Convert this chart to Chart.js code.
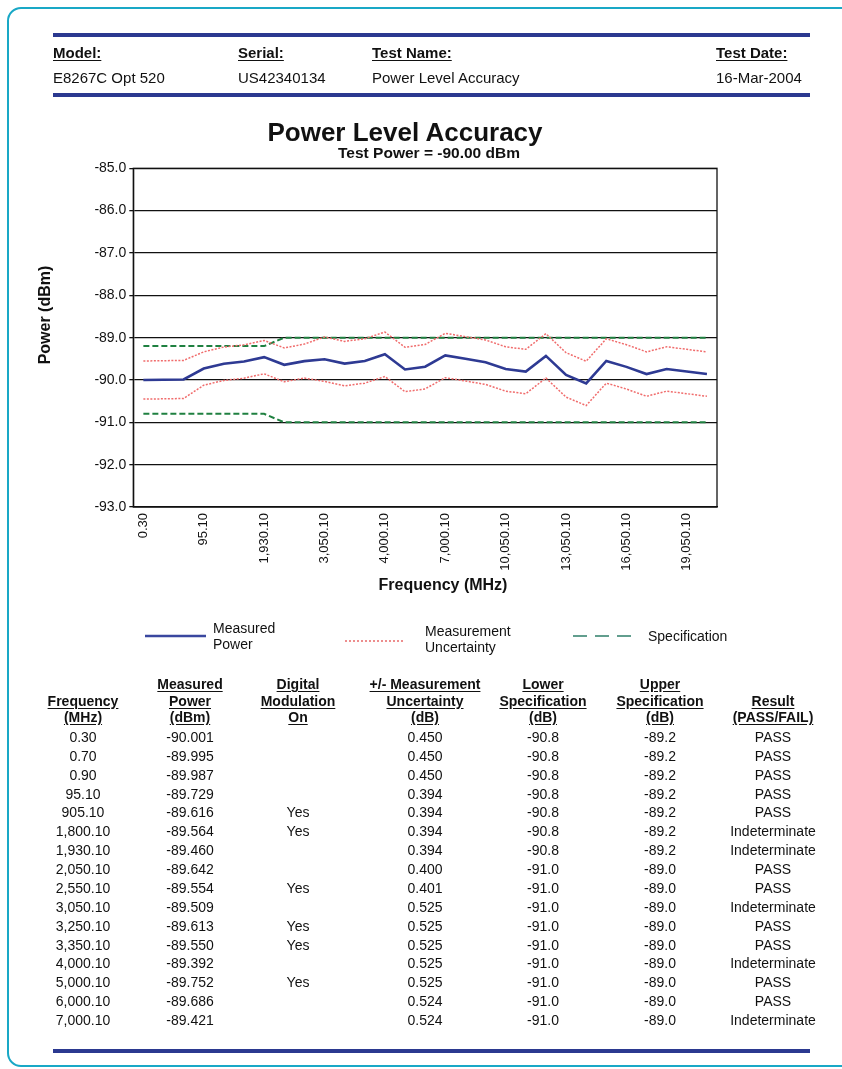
<!DOCTYPE html>
<html>
<head>
<meta charset="utf-8">
<script src="https://cdn.jsdelivr.net/npm/chart.js@4.4.1/dist/chart.umd.min.js"></script>
<style>
  html, body { margin: 0; padding: 0; background: #fff; }
  body { width: 842px; height: 1069px; position: relative; overflow: hidden;
         font-family: "Liberation Sans", Arial, sans-serif; color: #111; }
  .frame { position: absolute; left: 7px; top: 7px; width: 900px; height: 1060px;
           border: 2.5px solid #19a8c6; border-radius: 14px; box-sizing: border-box; }
  .bar { position: absolute; left: 53px; width: 757px; height: 4px; background: #2b3990; }
  .t { position: absolute; white-space: nowrap; line-height: 20px; height: 20px; }
  .b { font-weight: bold; }
  .u { text-decoration: underline; text-underline-offset: 2px; }
  #chartBox { position: absolute; left: 30px; top: 150px; }
</style>
</head>
<body>
<div class="frame"></div>
<div class="bar" style="top:33px"></div>
<div class="bar" style="top:93px"></div>
<div class="bar" style="top:1049px"></div>

<div id="chartBox"><canvas id="powerChart" width="720" height="450"></canvas></div>

<svg style="position:absolute;left:0;top:0" width="842" height="1069">
  <line x1="145" y1="636" x2="206" y2="636" stroke="#3a479f" stroke-width="2.5"/>
  <line x1="345" y1="641" x2="403" y2="641" stroke="#e86a6a" stroke-width="1.3" stroke-dasharray="2,2"/>
  <line x1="573" y1="636" x2="631" y2="636" stroke="#2f7f6a" stroke-width="1.5" stroke-dasharray="14,8"/>
</svg>

<div id="texts"></div>

<script>
// chart values
const frequencies = [
  "0.30", "0.70", "0.90", "95.10", "905.10", "1,800.10", "1,930.10", "2,050.10",
  "2,550.10", "3,050.10", "3,250.10", "3,350.10", "4,000.10", "5,000.10", "6,000.10",
  "7,000.10", "8,050.10", "9,050.10", "10,050.10", "11,050.10", "12,050.10", "13,050.10",
  "14,050.10", "15,050.10", "16,050.10", "17,050.10", "18,050.10", "19,050.10", "20,000.10"
];
const shownTicks = ["0.30", "95.10", "1,930.10", "3,050.10", "4,000.10", "7,000.10",
  "10,050.10", "13,050.10", "16,050.10", "19,050.10"];

const measured = [
  -90.001, -89.995, -89.987, -89.729, -89.616, -89.564, -89.460, -89.642,
  -89.554, -89.509, -89.613, -89.550, -89.392, -89.752, -89.686, -89.421,
  -89.50, -89.58, -89.74, -89.80, -89.43, -89.88, -90.08, -89.55,
  -89.69, -89.86, -89.74, -89.80, -89.86
];
const uncertainty = [
  0.450, 0.450, 0.450, 0.394, 0.394, 0.394, 0.394, 0.400,
  0.401, 0.525, 0.525, 0.525, 0.525, 0.525, 0.524, 0.524,
  0.524, 0.524, 0.524, 0.524, 0.524, 0.524, 0.524, 0.524,
  0.524, 0.524, 0.524, 0.524, 0.524
];
const lowerSpec = [
  -90.8, -90.8, -90.8, -90.8, -90.8, -90.8, -90.8, -91.0,
  -91.0, -91.0, -91.0, -91.0, -91.0, -91.0, -91.0, -91.0,
  -91.0, -91.0, -91.0, -91.0, -91.0, -91.0, -91.0, -91.0,
  -91.0, -91.0, -91.0, -91.0, -91.0
];
const upperSpec = [
  -89.2, -89.2, -89.2, -89.2, -89.2, -89.2, -89.2, -89.0,
  -89.0, -89.0, -89.0, -89.0, -89.0, -89.0, -89.0, -89.0,
  -89.0, -89.0, -89.0, -89.0, -89.0, -89.0, -89.0, -89.0,
  -89.0, -89.0, -89.0, -89.0, -89.0
];

// table rows (first 16 points)
const modulation = ["", "", "", "", "Yes", "Yes", "", "", "Yes", "", "Yes", "Yes", "", "Yes", "", ""];
const results = ["PASS", "PASS", "PASS", "PASS", "PASS", "Indeterminate", "Indeterminate", "PASS",
  "PASS", "Indeterminate", "PASS", "PASS", "Indeterminate", "PASS", "PASS", "Indeterminate"];

const upperUnc = measured.map((m, i) => m + uncertainty[i]);
const lowerUnc = measured.map((m, i) => m - uncertainty[i]);

// ---------- text helpers ----------
const box = document.getElementById("texts");
function put(text, x, cy, size, cls, align) {
  const d = document.createElement("div");
  d.className = "t " + (cls || "");
  d.textContent = text;
  d.style.fontSize = size + "px";
  d.style.top = (cy - 10) + "px";
  if (align === "center") { d.style.left = x + "px"; d.style.transform = "translateX(-50%)"; }
  else if (align === "right") { d.style.right = (842 - x) + "px"; }
  else d.style.left = x + "px";
  box.appendChild(d);
  return d;
}

// header
put("Model:", 53, 53.3, 15, "b u");
put("E8267C Opt 520", 53, 77.7, 15);
put("Serial:", 238, 53.3, 15, "b u");
put("US42340134", 238, 77.7, 15);
put("Test Name:", 372, 53.3, 15, "b u");
put("Power Level Accuracy", 372, 77.7, 15);
put("Test Date:", 716, 53.3, 15, "b u");
put("16-Mar-2004", 716, 77.7, 15);

// titles
put("Power Level Accuracy", 405, 131.7, 26, "b", "center");
put("Test Power = -90.00 dBm", 429, 153.3, 15.5, "b", "center");
put("Frequency (MHz)", 443, 585, 16, "b", "center");
const yt = put("Power (dBm)", 45, 315, 16, "b", "center");
yt.style.transform = "translateX(-50%) rotate(-90deg)";

// legend
put("Measured", 213, 628, 14);
put("Power", 213, 644, 14);
put("Measurement", 425, 631, 14);
put("Uncertainty", 425, 647, 14);
put("Specification", 648, 636, 14);

// data table
const colX = [83, 190, 298, 425, 543, 660, 773];
const headers = [
  ["", "Frequency", "(MHz)"],
  ["Measured", "Power", "(dBm)"],
  ["Digital", "Modulation", "On"],
  ["+/- Measurement", "Uncertainty", "(dB)"],
  ["Lower", "Specification", "(dB)"],
  ["Upper", "Specification", "(dB)"],
  ["", "Result", "(PASS/FAIL)"]
];
const headY = [684, 700.5, 717];
headers.forEach((lines, c) => {
  lines.forEach((s, r) => { if (s) put(s, colX[c], headY[r], 14, "b u", "center"); });
});
for (let i = 0; i < results.length; i++) {
  const cy = 737 + i * 18.87;
  const cells = [frequencies[i], measured[i].toFixed(3), modulation[i], uncertainty[i].toFixed(3),
    lowerSpec[i].toFixed(1), upperSpec[i].toFixed(1), results[i]];
  cells.forEach((s, c) => { if (s) put(s, colX[c], cy, 14, "", "center"); });
}

// ---------- chart ----------
const plotBorder = {
  id: "plotBorder",
  beforeDatasetsDraw(chart) {
    const { ctx, chartArea: a } = chart;
    ctx.save();
    ctx.strokeStyle = "#111";
    ctx.lineWidth = 1.3;
    ctx.strokeRect(a.left, a.top, a.right - a.left, a.bottom - a.top);
    ctx.restore();
  }
};

const font = { family: '"Liberation Sans", Arial, sans-serif' };

new Chart(document.getElementById("powerChart"), {
  type: "line",
  data: {
    labels: frequencies,
    datasets: [
      { label: "Measured Power", data: measured, borderColor: "#2e3a93", borderWidth: 2.6 },
      { label: "Measurement Uncertainty", data: upperUnc, borderColor: "#f06c6c", borderWidth: 1.5, borderDash: [2, 1.5] },
      { label: "", data: lowerUnc, borderColor: "#f06c6c", borderWidth: 1.5, borderDash: [2, 1.5] },
      { label: "Specification", data: upperSpec, borderColor: "#1f8040", borderWidth: 2, borderDash: [6, 3] },
      { label: "", data: lowerSpec, borderColor: "#1f8040", borderWidth: 2, borderDash: [6, 3] }
    ]
  },
  options: {
    responsive: false,
    animation: false,
    elements: { point: { radius: 0 }, line: { tension: 0 } },
    layout: { padding: { top: 18.3, right: 33, bottom: 0, left: 0 } },
    scales: {
      x: {
        offset: true,
        grid: { display: false, drawTicks: false },
        border: { display: true, color: "#111", width: 1.3 },
        ticks: {
          autoSkip: false, minRotation: 90, maxRotation: 90, padding: 6,
          color: "#111", font: { ...font, size: 13 },
          callback(v) {
            const lab = this.getLabelForValue(v);
            return shownTicks.includes(lab) ? lab : "";
          }
        },
        afterFit(s) { s.height = 93; }
      },
      y: {
        min: -93, max: -85,
        grid: { color: "#111", lineWidth: 1.3, tickLength: 4 },
        border: { color: "#111", width: 1.3 },
        ticks: { stepSize: 1, padding: 3, color: "#111", font: { ...font, size: 14 },
                 callback: v => v.toFixed(1) },
        afterFit(s) { s.width = 103.3; }
      }
    },
    plugins: {
      legend: { display: false },
      title: { display: false },
      tooltip: { enabled: false }
    }
  },
  plugins: [plotBorder]
});
</script>
</body>
</html>
